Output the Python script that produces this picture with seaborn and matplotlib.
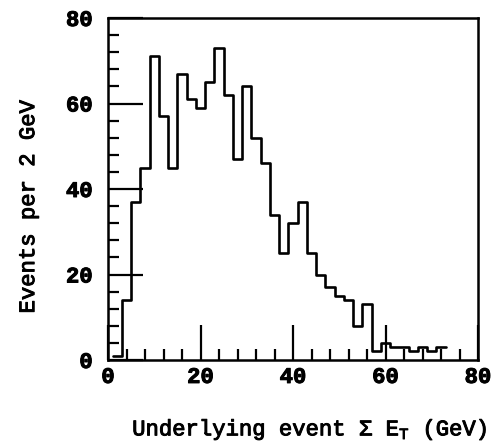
import numpy as np
import pandas as pd
import matplotlib
matplotlib.use("Agg")
import matplotlib.pyplot as plt
import matplotlib.patheffects as pe
import seaborn as sns
from matplotlib.ticker import MultipleLocator

# Underlying-event summed transverse energy, 2 GeV bins
bin_edges = list(range(1, 75, 2))
bin_centers = list(range(2, 74, 2))
counts = [1, 14, 37, 45, 71, 57, 45, 67, 61, 59, 65, 73, 62, 47, 64, 52, 46, 34,
          25, 32, 37, 25, 20, 17, 15, 14, 8, 13, 2, 4, 3, 3, 2, 3, 2, 3]
x_ticks = [0, 20, 40, 60, 80]
y_ticks = [0, 20, 40, 60, 80]

df = pd.DataFrame({"sumET": bin_centers, "events": counts})

sns.set_style("ticks")
plt.rcParams["font.family"] = ["Liberation Mono", "DejaVu Sans Mono"]
plt.rcParams["font.weight"] = "bold"
plt.rcParams["mathtext.fontset"] = "custom"
plt.rcParams["mathtext.rm"] = "Liberation Mono:bold"
plt.rcParams["text.color"] = "black"
plt.rcParams["axes.labelcolor"] = "black"
plt.rcParams["xtick.color"] = "black"
plt.rcParams["ytick.color"] = "black"

fig = plt.figure(figsize=(4.99, 4.41), dpi=100)
ax = fig.add_axes([108 / 499, 81 / 441, 370 / 499, 342 / 441])

sns.histplot(data=df, x="sumET", weights="events", bins=bin_edges,
             element="step", fill=False, color="black", linewidth=1.9, ax=ax)

ax.set_xlim(0, 80)
ax.set_ylim(0, 80)
ax.set_xticks(x_ticks)
ax.set_yticks(y_ticks)
ax.xaxis.set_minor_locator(MultipleLocator(4))
ax.yaxis.set_minor_locator(MultipleLocator(4))
ax.tick_params(which="major", direction="in", length=25, width=1.6,
               top=False, right=False, labelsize=16, colors="black")
ax.tick_params(axis="y", which="major", pad=11)
ax.tick_params(axis="x", which="major", pad=5)
ax.tick_params(which="minor", direction="in", length=8, width=1.6,
               top=False, right=False, colors="black")

for s in ax.spines.values():
    s.set_linewidth(1.8)
    s.set_color("black")
    s.set_visible(True)

ax.set_xlabel("Underlying event Σ E$_\\mathregular{T}$ (GeV)", fontsize=16,
              color="black")
ax.set_ylabel("Events per 2 GeV", fontsize=16, color="black")
ax.xaxis.set_label_coords(0.546, -0.168)
ax.yaxis.set_label_coords(-0.186, 0.449)

# heavier strokes on all text
thick = [pe.withStroke(linewidth=0.7, foreground="black")]
for t in ax.get_xticklabels() + ax.get_yticklabels() + [ax.xaxis.label, ax.yaxis.label]:
    t.set_path_effects(thick)

fig.savefig("out.png", dpi=100)
